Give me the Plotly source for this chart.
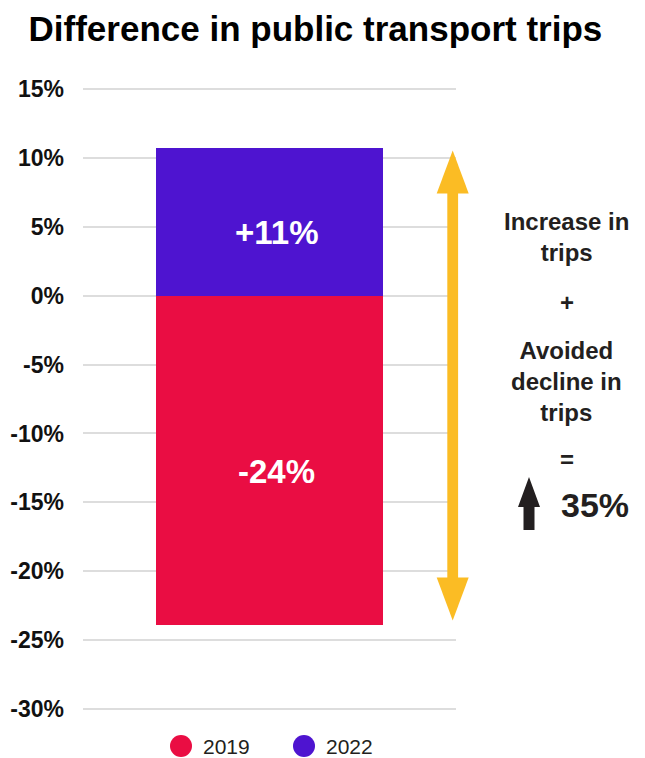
import plotly.graph_objects as go

# ---- data -------------------------------------------------------------
years = ["2019", "2022"]
changes = [-23.9, 10.7]            # change in public transport trips, %
bar_colors = ["#EA0D43", "#4E14D0"]
y_ticks = [15, 10, 5, 0, -5, -10, -15, -20, -25, -30]
tick_labels = [f"{t}%" for t in y_ticks]
title_text = "Difference in public transport trips"
increase_text = "Increase in<br>trips"
avoided_text = "Avoided<br>decline in<br>trips"

# ---- layout geometry ---------------------------------------------------
W, H = 645, 758
M_L, M_R, M_T, M_B = 83, 189, 86, 46
PW = W - M_L - M_R
PH = H - M_T - M_B
# a little headroom so the 15% and -30% grid lines are drawn
Y_MIN, Y_MAX = -30.2, 15.2
FONT = "Liberation Sans, Arial, Helvetica, sans-serif"
TEXT_DARK = "#231F20"
YELLOW = "#FBBC24"


def px_x(px):
    """pixel column -> paper x"""
    return (px - M_L) / PW


def px_y(py):
    """pixel row -> paper y"""
    return (H - M_B - py) / PH


def px_to_data(dpx):
    """pixel distance -> y-axis units"""
    return dpx * (Y_MAX - Y_MIN) / PH


fig = go.Figure()

for year, val, col in zip(years, changes, bar_colors):
    fig.add_trace(go.Bar(
        x=[0], y=[val], name=year, width=0.61,
        marker=dict(color=col, line=dict(width=0)),
        showlegend=False, hovertemplate=f"{year}: %{{y}}%<extra></extra>",
    ))

annotations = []
shapes = []

# value labels inside the bars
for val in changes:
    annotations.append(dict(
        x=0, y=val / 2, xref="x", yref="y", yshift=-11, xshift=7,
        text=f"<b>{val:+.0f}%</b>", showarrow=False,
        font=dict(family=FONT, size=33, color="white"),
        xanchor="center", yanchor="middle",
    ))

# yellow double-headed arrow spanning the full swing
top_val, bot_val = max(changes), min(changes)
ax = 452.7
shaft_half = 5.4
head_half = 16
head_len = px_to_data(43)
top_tip = top_val - px_to_data(2.4)
bot_tip = bot_val + px_to_data(4.6)
shapes.append(dict(
    type="rect", xref="paper", yref="y",
    x0=px_x(ax - shaft_half), x1=px_x(ax + shaft_half),
    y0=bot_tip + head_len - 0.2, y1=top_tip - head_len + 0.2,
    fillcolor=YELLOW, line=dict(width=0), layer="above",
))
for tip, base in [(top_tip, top_tip - head_len), (bot_tip, bot_tip + head_len)]:
    shapes.append(dict(
        type="path", xref="paper", yref="y",
        path=(f"M {px_x(ax)},{tip} L {px_x(ax + head_half)},{base} "
              f"L {px_x(ax - head_half)},{base} Z"),
        fillcolor=YELLOW, line=dict(width=0), layer="above",
    ))

# explanatory text on the right
tx = px_x(566.7)
for text, row in [(increase_text, 237.5), ("+", 302),
                  (avoided_text, 381.5), ("=", 459)]:
    annotations.append(dict(
        x=tx, y=px_y(row), xref="paper", yref="paper",
        text=f"<b>{text}</b>", showarrow=False, align="center",
        font=dict(family=FONT, size=24, color=TEXT_DARK),
        xanchor="center", yanchor="middle",
    ))

total = sum(abs(v) for v in changes)
annotations.append(dict(
    x=px_x(595), y=px_y(505), xref="paper", yref="paper",
    text=f"<b>{total:.0f}%</b>", showarrow=False,
    font=dict(family=FONT, size=34, color=TEXT_DARK),
    xanchor="center", yanchor="middle",
))

# black up arrow next to the total
bx, b_tip, b_base, b_end = 529, 477, 507, 530
pts = [(bx, b_tip), (bx + 11, b_base), (bx + 5.5, b_base), (bx + 5.5, b_end),
       (bx - 5.5, b_end), (bx - 5.5, b_base), (bx - 11, b_base)]
shapes.append(dict(
    type="path", xref="paper", yref="paper",
    path="M " + " L ".join(f"{px_x(a)},{px_y(b)}" for a, b in pts) + " Z",
    fillcolor=TEXT_DARK, line=dict(width=0),
))

# legend row
leg_y = 746
for year, col, cx in zip(years, bar_colors, [181, 304]):
    shapes.append(dict(
        type="circle", xref="paper", yref="paper",
        x0=px_x(cx - 11), x1=px_x(cx + 11),
        y0=px_y(leg_y + 11), y1=px_y(leg_y - 11),
        fillcolor=col, line=dict(width=0),
    ))
    annotations.append(dict(
        x=px_x(cx + 20), y=px_y(leg_y), xref="paper", yref="paper",
        text=year, showarrow=False,
        font=dict(family=FONT, size=21, color=TEXT_DARK),
        xanchor="left", yanchor="middle",
    ))

fig.update_layout(
    width=W, height=H,
    margin=dict(l=M_L, r=M_R, t=M_T, b=M_B, autoexpand=False),
    paper_bgcolor="white", plot_bgcolor="white",
    barmode="relative", bargap=0,
    showlegend=False,
    title=dict(
        text=title_text, x=0.489, xanchor="center", xref="container",
        y=1 - 29 / H, yanchor="middle", yref="container",
        font=dict(family=FONT, size=35, color="black", weight="bold"),
    ),
    xaxis=dict(range=[-0.5, 0.5], visible=False, fixedrange=True),
    yaxis=dict(
        range=[Y_MIN, Y_MAX], tickvals=y_ticks, ticktext=tick_labels,
        showgrid=True, gridcolor="#DDDDDD", gridwidth=2,
        zeroline=False, showline=False, ticks="",
        ticklabelstandoff=18,
        tickfont=dict(family=FONT, size=23, color="#111111", weight="bold"),
        fixedrange=True,
    ),
    annotations=annotations,
    shapes=shapes,
)

fig.write_html("out.html", config={"displayModeBar": False})
